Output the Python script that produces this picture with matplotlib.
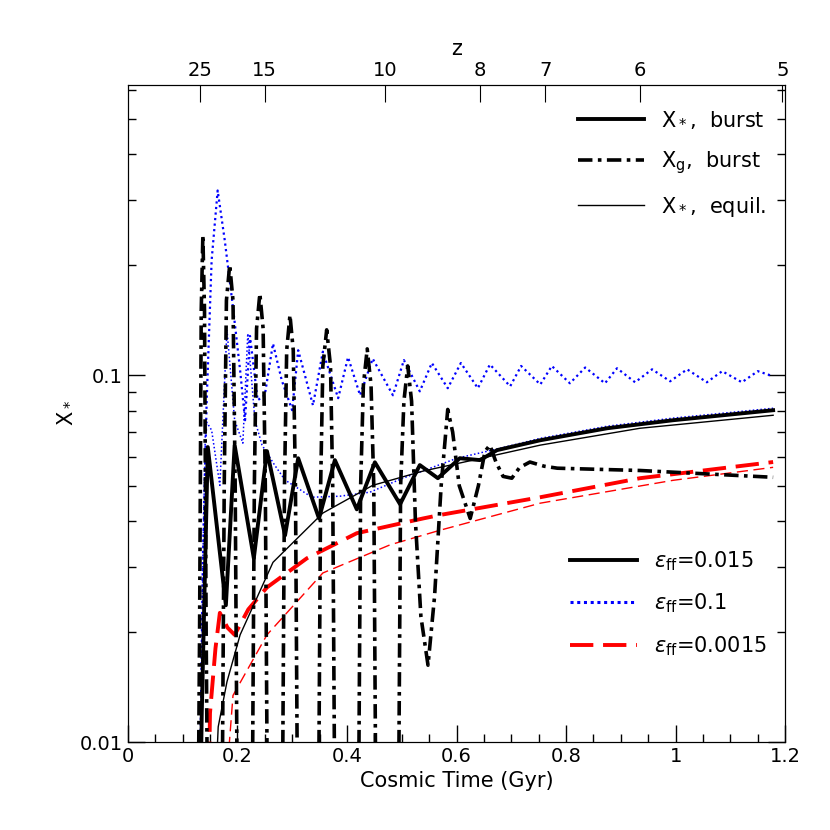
import matplotlib
matplotlib.use("Agg")
import matplotlib.pyplot as plt
from matplotlib.ticker import MultipleLocator, LogLocator, NullFormatter
from matplotlib.lines import Line2D

# eps_ff = 0.015, burst: stellar fraction
t_s015 = [.131,.135,.146,.179,.195,.230,.254,.287,.311,.349,.378,.418,.451,.497,.533,.566,.606,.643,.674,.753,.875,.995,1.178]
x_s015 = [.005,.012,.0637,.0236,.0645,.0317,.0621,.0366,.0594,.0407,.0587,.0431,.0579,.0445,.0569,.0524,.0594,.0587,.0625,.0665,.0717,.0754,.0803]

# eps_ff = 0.015, burst: gas fraction
t_g015 = [.128,.131,.134,.137,.140,.143,.146,
          .171,.173,.176,.180,.186,.192,.196,.199,.201,
          .226,.228,.231,.235,.241,.247,.251,.254,.256,
          .281,.283,.286,.290,.296,.302,.306,.309,.311,
          .347,.349,.352,.356,.363,.370,.374,.377,.379,
          .420,.422,.425,.430,.437,.444,.449,.452,.454,
          .493,.495,.498,.504,.511,.518,.525,.535,.548,.560,.572,.584,.593,.605,.625,.640,.652,.661,.672,.685,.701,.715,.734,.760,.784,.935,1.178]
x_g015 = [.005,.02,.15,.241,.15,.02,.005,
          .005,.01,.05,.16,.200,.16,.05,.01,.005,
          .005,.01,.05,.134,.167,.134,.05,.01,.005,
          .005,.01,.05,.117,.146,.117,.05,.01,.005,
          .005,.01,.05,.106,.133,.106,.05,.01,.005,
          .005,.01,.05,.094,.118,.094,.05,.01,.005,
          .005,.01,.05,.085,.106,.085,.04,.022,.0162,.025,.05,.0807,.07,.05,.0407,.05,.062,.0645,.058,.053,.0524,.056,.058,.0565,.0558,.055,.0527]

# eps_ff = 0.015, equilibrium
t_e015 = [.155,.165,.181,.205,.265,.356,.447,.539,.630,.753,.935,1.178]
x_e015 = [.005,.011,.0146,.0196,.0309,.0421,.0501,.0548,.0587,.0645,.0717,.0778]

# eps_ff = 0.1, burst gas
t_g01 = [.130,.137,.144,.153,.164,.177,.192,.205,.214,.223,.237,.250,.265,.281,.300,.311,.338,.356,.384,.402,.424,.447,.484,.504,.533,.555,.584,.608,.639,.661,.698,.718,.753,.774,.807,.835,.871,.893,.926,.957,.990,1.021,1.057,1.085,1.121,1.150,1.178]
x_g01 = [.005,.0313,.0855,.206,.319,.233,.153,.1032,.0754,.128,.0855,.0882,.122,.0969,.0803,.117,.0828,.116,.0866,.112,.0882,.111,.0882,.110,.0904,.108,.0922,.108,.0922,.107,.0933,.106,.0944,.106,.0951,.105,.0951,.1045,.0957,.1038,.0963,.1038,.0957,.1026,.0957,.1026,.0994]

# eps_ff = 0.1, burst stellar
t_s01 = [.132,.137,.142,.153,.168,.181,.195,.210,.219,.232,.245,.268,.287,.336,.387,.442,.502,.552,.601,.679,.753,.875,.995,1.178]
x_s01 = [.005,.0313,.0754,.0708,.0501,.133,.0754,.0653,.130,.0754,.0645,.0569,.0518,.0465,.0468,.0480,.0524,.0558,.0594,.0632,.0673,.0726,.0764,.0813]

# eps_ff = 0.0015, burst stellar
t_s0015 = [.146,.150,.160,.168,.182,.195,.220,.254,.327,.418,.539,.570,.753,.935,1.178]
x_s0015 = [.005,.012,.018,.0225,.0205,.0196,.023,.0264,.0317,.0371,.0407,.0416,.0465,.0524,.058]

# eps_ff = 0.0015, equilibrium
t_e0015 = [.170,.192,.254,.356,.479,.570,.753,.995,1.178]
x_e0015 = [.005,.0134,.0196,.0289,.0345,.0378,.0448,.0517,.0561]

z_labels = ["25", "15", "10", "8", "7", "6", "5"]
z_times = [0.1315, 0.25, 0.469, 0.643, 0.762, 0.935, 1.195]

fig = plt.figure(figsize=(8.3, 8.3), dpi=100)
ax = fig.add_axes([0.154, 0.106, 0.792, 0.792])

blue = "#0000ff"
red = "#ff0000"
ax.plot(t_g01, x_g01, color=blue, lw=1.6, ls=(0, (1, 1.5)))
ax.plot(t_s01, x_s01, color=blue, lw=1.1, ls=(0, (1, 1.5)))
ax.plot(t_e0015, x_e0015, color=red, lw=1.0, ls=(0, (8, 4)))
ax.plot(t_s0015, x_s0015, color=red, lw=2.8, ls=(0, (6, 2.5)))
ax.plot(t_e015, x_e015, color="black", lw=1.0)
ax.plot(t_g015, x_g015, color="black", lw=2.6, ls=(0, (4, 1.5, 1, 1.5)))
ax.plot(t_s015, x_s015, color="black", lw=2.8)

ax.set_yscale("log")
ax.set_xlim(0, 1.2)
ax.set_ylim(0.01, 0.62)
ax.xaxis.set_minor_locator(MultipleLocator(0.05))
ax.set_xticks([0, 0.2, 0.4, 0.6, 0.8, 1.0, 1.2])
ax.set_xticklabels(["0", "0.2", "0.4", "0.6", "0.8", "1", "1.2"])
ax.set_yticks([0.01, 0.1])
ax.set_yticklabels(["0.01", "0.1"])
ax.yaxis.set_minor_locator(LogLocator(base=10, subs=range(2, 10)))
ax.yaxis.set_minor_formatter(NullFormatter())
ax.tick_params(which="both", direction="in", top=False, right=True, labelsize=14)
ax.tick_params(which="major", length=12, width=1)
ax.tick_params(which="minor", length=6, width=1)
ax.set_xlabel("Cosmic Time (Gyr)", fontsize=15)
ax.set_ylabel(r"X$_*$", fontsize=15)

sec = ax.twiny()
sec.set_xlim(0, 1.2)
sec.set_xticks(z_times)
sec.set_xticklabels(z_labels)
sec.tick_params(direction="in", length=12, labelsize=14)
sec.set_xlabel("z", fontsize=15)

h1 = [Line2D([], [], color="black", lw=2.8),
      Line2D([], [], color="black", lw=2.6, ls=(0, (4, 1.5, 1, 1.5))),
      Line2D([], [], color="black", lw=1.0)]
l1 = [r"X$_*$,  burst", r"X$_{\rm g}$,  burst", r"X$_*$,  equil."]
leg1 = ax.legend(h1, l1, loc="upper right", frameon=False, fontsize=15,
                 handlelength=3.2, labelspacing=0.9, bbox_to_anchor=(1.0, 0.99))
ax.add_artist(leg1)
h2 = [Line2D([], [], color="black", lw=2.8),
      Line2D([], [], color=blue, lw=2.2, ls=(0, (1, 1.2))),
      Line2D([], [], color=red, lw=2.8, ls=(0, (6, 2.5)))]
l2 = [r"$\epsilon_{\rm ff}$=0.015", r"$\epsilon_{\rm ff}$=0.1", r"$\epsilon_{\rm ff}$=0.0015"]
ax.legend(h2, l2, loc="lower right", frameon=False, fontsize=15,
          handlelength=3.2, labelspacing=0.9, bbox_to_anchor=(1.0, 0.1))

fig.savefig("out.png", dpi=100)
